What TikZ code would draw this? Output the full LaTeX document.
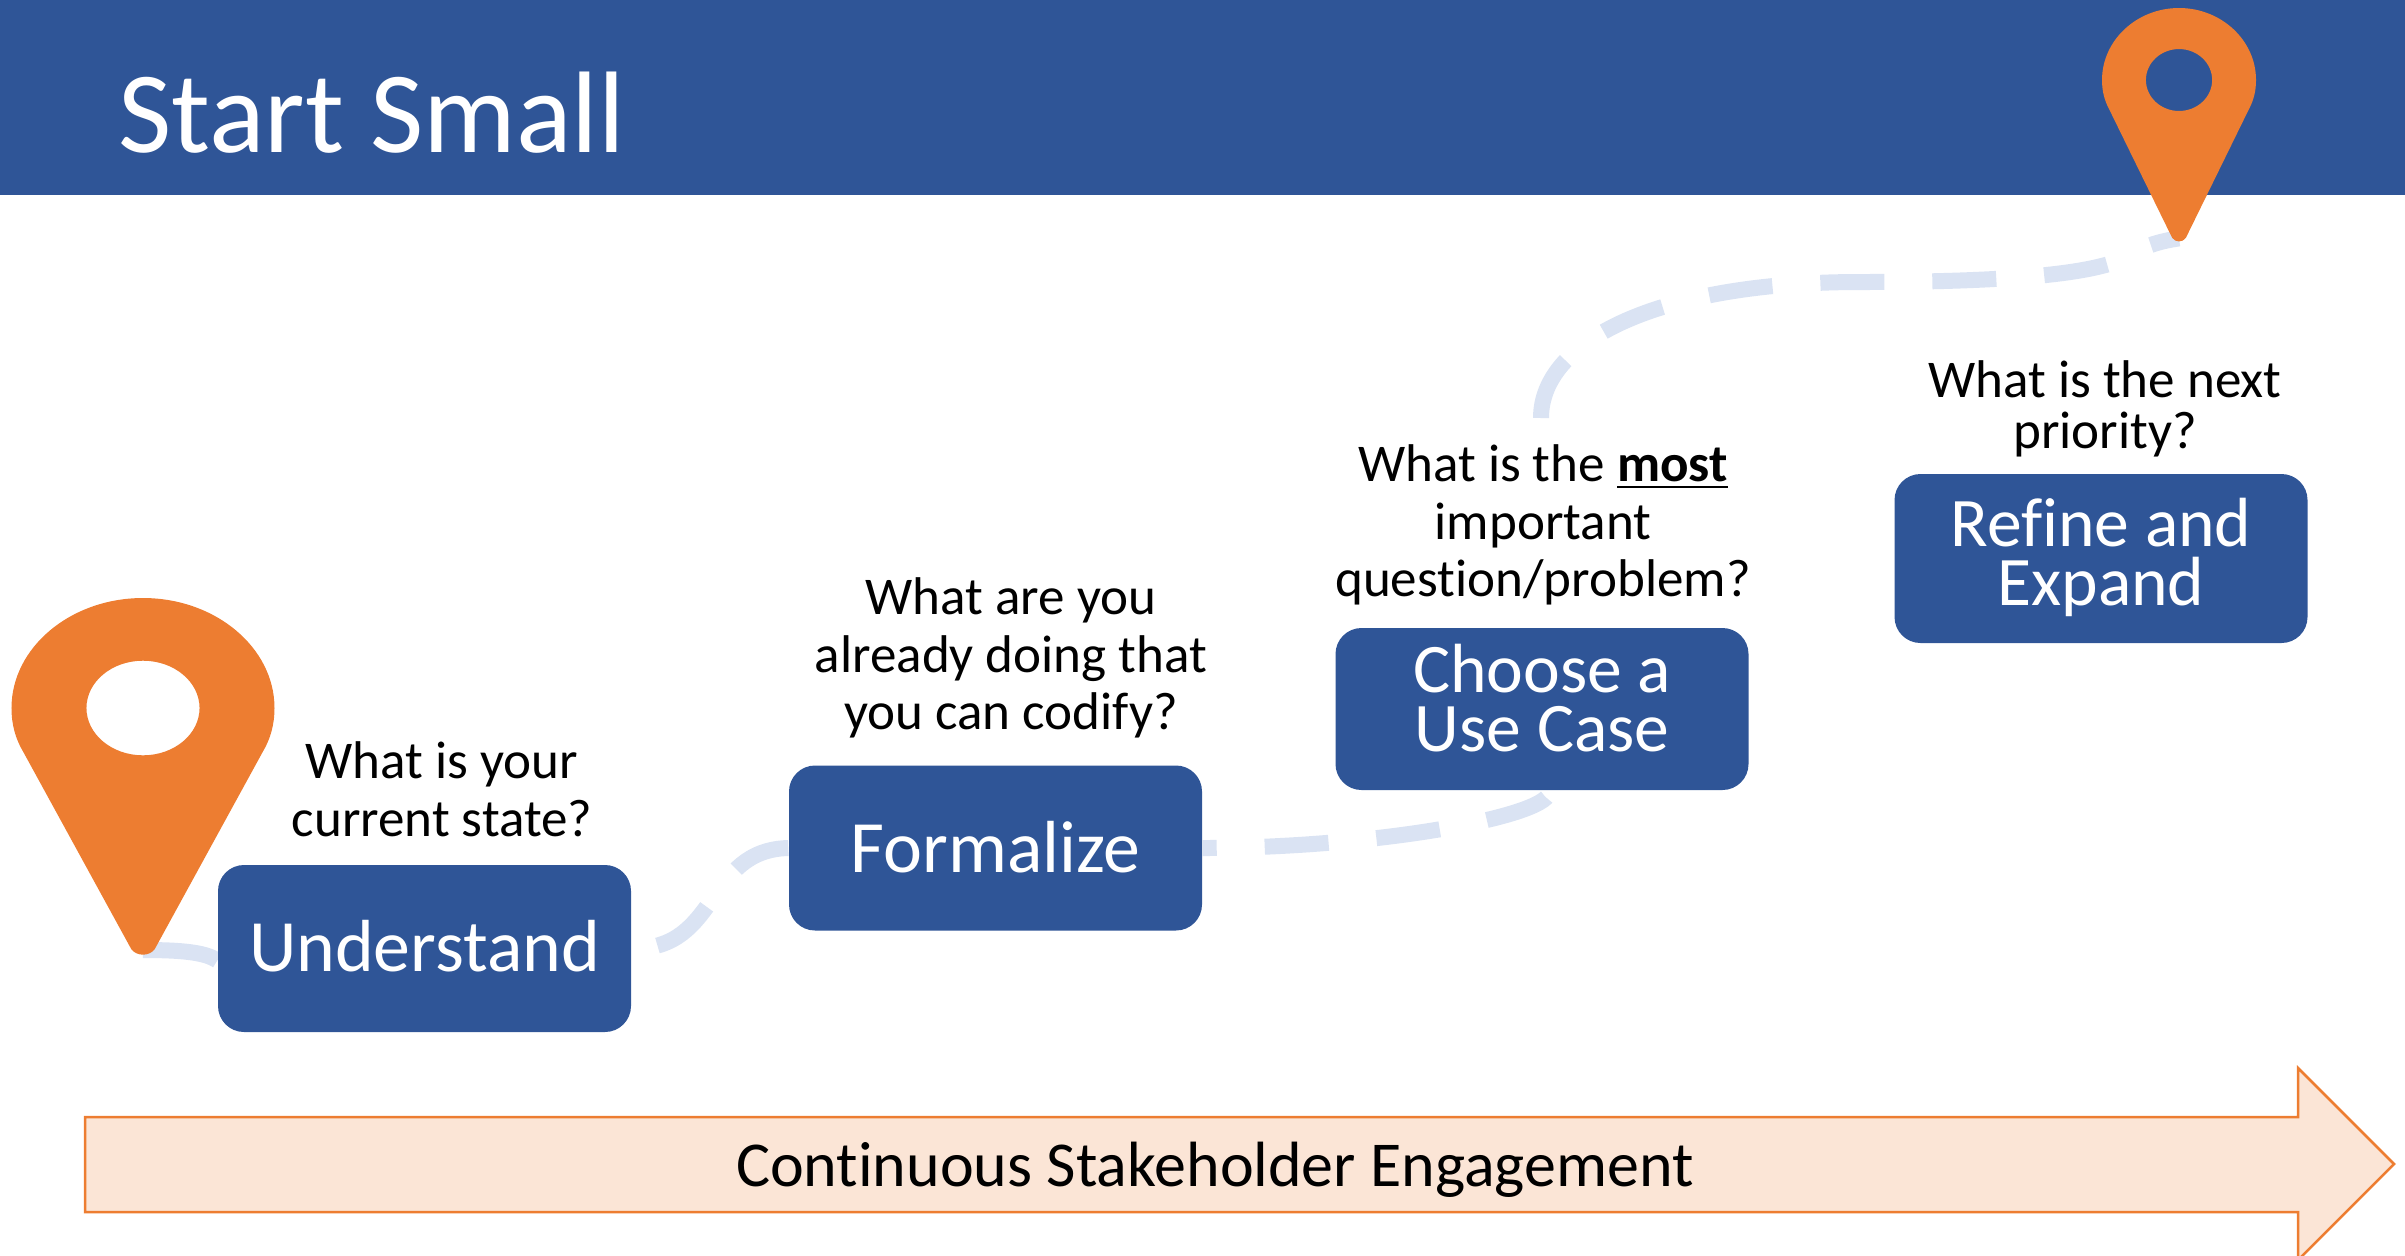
\documentclass[tikz,border=0pt]{standalone}
\usepackage{fontspec}
\setmainfont[Ligatures=NoCommon]{Carlito}
\usetikzlibrary{backgrounds}
\definecolor{slideblue}{HTML}{2F5597}
\definecolor{pinorange}{HTML}{ED7D31}
\definecolor{trailblue}{HTML}{DAE3F3}
\definecolor{bandpeach}{HTML}{FBE5D6}
\newcommand{\liftby}[1]{\rule[-#1]{0pt}{0pt}}
\tikzset{
  stepbox/.style={fill=slideblue,text=white,rounded corners=.26cm,minimum width=4.13cm,
    minimum height=1.65cm,inner sep=0pt,align=center,font=\fontsize{21}{16.8}\selectfont},
  twolines/.style={font=\fontsize{19.8}{16.8}\selectfont},
  question/.style={inner sep=0pt,align=center,font=\fontsize{15.1}{16.4}\selectfont},
  trail/.style={trailblue,line width=.16cm,dash pattern=on .64cm off .48cm},
  mappin/.pic={
    \fill[pinorange,even odd rule] (0,1) .. controls (.55,1) and (1,.55) .. (1,0)
      .. controls (1,-.15) and (.97,-.28) .. (.91,-.4) -- (.09,-2.19)
      .. controls (.05,-2.26) and (-.05,-2.26) .. (-.09,-2.19) -- (-.91,-.4)
      .. controls (-.97,-.28) and (-1,-.15) .. (-1,0)
      .. controls (-1,.55) and (-.55,1) .. (0,1) -- cycle
      (0,0) ellipse (.43 and .43);
    \coordinate (-tip) at (0,-2.2);
  }
}
\begin{document}
\begin{tikzpicture}
      \useasboundingbox (0,0) rectangle (24.05,-12.55);
      \clip (0,0) rectangle (24.05,-12.55);
      \fill[slideblue] (0,0) rectangle (24.05,-1.95);
      \node[anchor=west,text=white,font=\fontsize{33}{40}\selectfont] (title) at (1.06,-1.13) {Start Small};
      \node[stepbox,minimum height=1.67cm] (Understand) at (4.245,-9.485) {Understand\liftby{.06cm}};
      \node[stepbox] (Formalize) at (9.955,-8.48) {Formalize\liftby{.02cm}};
      \node[stepbox,twolines,minimum height=1.62cm] (Choose) at (15.42,-7.09) {Choose a\\Use Case\liftby{.23cm}};
      \node[stepbox,twolines,minimum height=1.69cm] (Refine) at (21.01,-5.585) {Refine and\\Expand\liftby{.14cm}};
      \node[question] (Q1) at (4.42,-7.895) {What is your\\current state?};
      \node[question] (Q2) at (10.11,-6.58) {What are you\\already doing that\\you can codify?};
      \node[question] (Q3) at (15.43,-5.25) {What is the \underline{\textbf{most}}\\important\\question/problem?};
      \node[question,font=\fontsize{15.1}{14.5}\selectfont] (Q4) at (21.05,-4.09) {What is the next\\priority?};
      \pic[xscale=1.315,yscale=1.1] (pinstart) at (1.43,-7.08) {mappin};
      \pic[xscale=.77,yscale=.72] (pinend) at (21.79,-.8) {mappin};
      \coordinate (trailtop) at (15.41,-4.18);
      \draw[fill=bandpeach,draw=pinorange,line width=.025cm] (.85,-11.17) -- (22.98,-11.17) -- (22.98,-10.68)
        -- (23.94,-11.64) -- (22.98,-12.6) -- (22.98,-12.12) -- (.85,-12.12) -- cycle;
      \node[font=\fontsize{18.2}{22}\selectfont] (band) at (12.15,-11.7) {Continuous Stakeholder Engagement};
      \begin{scope}[on background layer]
        \draw[trail,solid] (pinstart-tip) .. controls (1.8,-9.5) and (2.05,-9.52) .. ([yshift=-.12cm]Understand.west);
        \draw[trail,dash phase=.86cm] (Understand.east) .. controls (7.2,-9.5) and (7.05,-8.5) .. (Formalize.west);
        \draw[trail,dash phase=.5cm] (Formalize.east) .. controls (13.8,-8.48) and (15.55,-8.15) .. ([xshift=.07cm]Choose.south);
        \draw[trail] (trailtop) .. controls (15.41,-3.4) and (16.6,-2.82) .. (18.6,-2.82)
          .. controls (20,-2.82) and (20.9,-2.75) .. (21.25,-2.58)
          .. controls (21.4,-2.47) and (21.6,-2.41) .. (pinend-tip);
      \end{scope}
    \end{tikzpicture}
\end{document}
